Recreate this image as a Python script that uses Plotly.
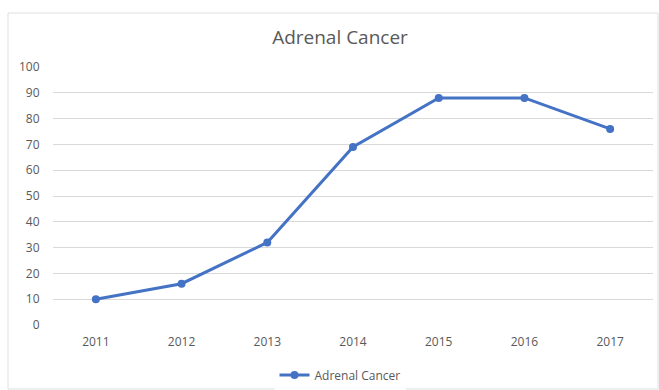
import plotly.graph_objects as go

years = ["2011", "2012", "2013", "2014", "2015", "2016", "2017"]
cases = [10, 16, 32, 69, 88, 88, 76]
series_name = "Adrenal Cancer"
title_text = "Adrenal Cancer"

W, H = 659, 390
L, R, T, B = 53, 6, 67, 65
pw = W - L - R
ph = H - T - B

def px_x(x):
    return (x - L) / pw

def px_y(y):
    return (H - B - y) / ph

fig = go.Figure()
fig.add_trace(go.Scatter(
    x=years, y=cases, name=series_name, mode="lines+markers",
    line=dict(color="#4472C4", width=3),
    marker=dict(color="#4472C4", size=8),
))

fig.update_layout(
    width=W, height=H,
    margin=dict(l=L, r=R, t=T, b=B, autoexpand=False),
    paper_bgcolor="white", plot_bgcolor="white",
    font=dict(family="Open Sans, Liberation Sans, sans-serif", size=12, color="#595959"),
    title=dict(text=title_text, x=px_x(340), xref="paper", xanchor="center",
               y=1 - 37 / H, yanchor="middle",
               font=dict(size=19, color="#595959")),
    showlegend=True,
    legend=dict(orientation="h", x=px_x(340), xanchor="center",
                yref="container", y=1 - 375 / H, yanchor="middle",
                font=dict(size=12, color="#595959"), itemwidth=30),
    xaxis=dict(type="category", range=[-0.5, 6.5], showgrid=False, zeroline=False,
               showline=False, ticks="outside", ticklen=6, tickcolor="white",
               tickfont=dict(size=12, color="#595959")),
    yaxis=dict(range=[0, 100], dtick=10, showgrid=True, gridcolor="#D9D9D9", gridwidth=1,
               zeroline=False, showline=False, ticks="outside", ticklen=10, tickcolor="white",
               tickfont=dict(size=12, color="#595959")),
    shapes=[dict(type="rect", xref="paper", yref="paper",
                 x0=px_x(8), x1=px_x(658), y0=px_y(389), y1=px_y(13),
                 line=dict(color="#E0E0E0", width=1), fillcolor="rgba(0,0,0,0)", layer="below")],
)

fig.write_html("out.html")
